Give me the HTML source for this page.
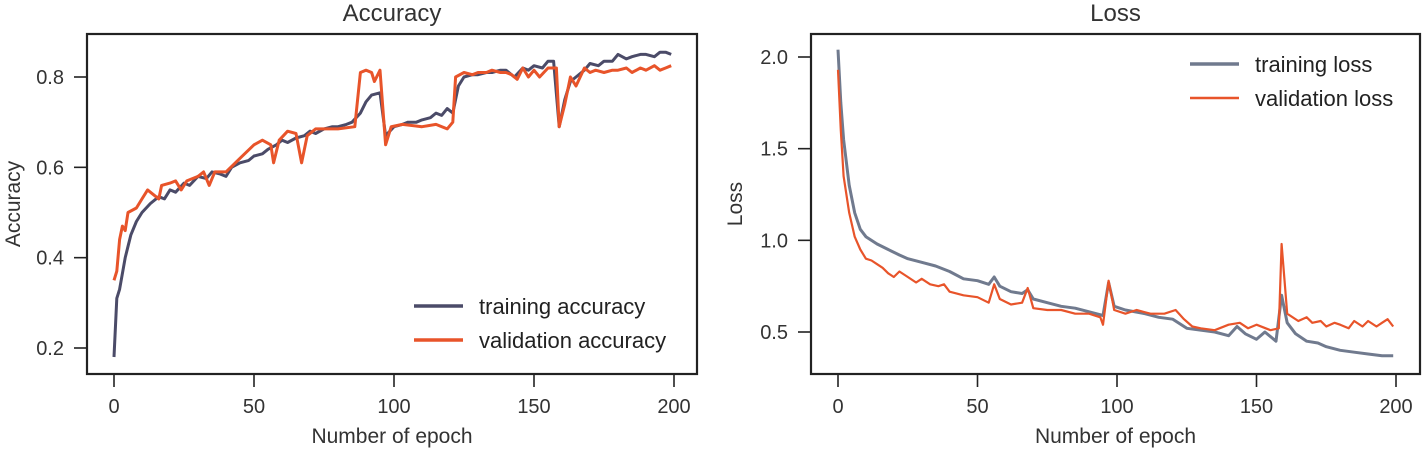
<!DOCTYPE html>
<html><head><meta charset="utf-8"><style>
body{margin:0;background:#fff}
svg{display:block;font-family:"Liberation Sans",sans-serif}
</style></head><body>
<svg id="c" width="1425" height="450" viewBox="0 0 1425 450" xmlns="http://www.w3.org/2000/svg"></svg>
<script>
const accEpochs=[0,1,2,4,6,8,10,13,16,18,20,22,25,27,30,33,35,38,40,42,45,48,50,53,55,58,60,62,65,68,70,72,75,78,80,83,85,88,90,92,95,97,100,103,105,108,110,113,115,117,119,121,123,125,128,130,133,135,138,140,143,146,148,150,153,155,157,159,161,163,165,168,170,173,175,178,180,183,185,188,190,193,195,197,199];
const accTrain=[0.18,0.31,0.33,0.40,0.45,0.48,0.50,0.52,0.535,0.53,0.55,0.545,0.565,0.56,0.58,0.575,0.59,0.585,0.58,0.60,0.61,0.615,0.625,0.63,0.64,0.65,0.66,0.655,0.665,0.67,0.68,0.675,0.685,0.69,0.69,0.695,0.70,0.72,0.745,0.76,0.765,0.67,0.69,0.695,0.70,0.70,0.705,0.71,0.72,0.715,0.73,0.72,0.78,0.80,0.805,0.805,0.81,0.81,0.815,0.815,0.80,0.82,0.815,0.825,0.82,0.835,0.835,0.69,0.75,0.79,0.80,0.815,0.83,0.825,0.835,0.835,0.85,0.84,0.845,0.85,0.85,0.845,0.855,0.855,0.85];
const valAccEpochs=[0,1,2,3,4,5,8,10,12,14,16,17,20,22,24,26,30,32,34,36,40,45,50,53,56,57,59,62,65,67,69,72,80,86,88,90,92,93,95,97,99,103,110,115,119,121,122,125,128,130,133,135,138,140,142,144,146,148,150,152,155,158,159,161,163,165,168,170,172,175,178,180,183,185,188,190,193,195,197,199];
const accVal=[0.35,0.37,0.44,0.47,0.46,0.50,0.51,0.53,0.55,0.54,0.53,0.56,0.565,0.57,0.55,0.57,0.58,0.59,0.56,0.59,0.59,0.62,0.65,0.66,0.65,0.61,0.66,0.68,0.675,0.61,0.67,0.685,0.685,0.69,0.81,0.815,0.81,0.79,0.815,0.65,0.69,0.695,0.69,0.695,0.685,0.70,0.80,0.81,0.805,0.81,0.81,0.815,0.81,0.81,0.805,0.795,0.82,0.80,0.815,0.80,0.82,0.82,0.69,0.74,0.80,0.78,0.82,0.81,0.815,0.81,0.815,0.815,0.82,0.81,0.82,0.815,0.825,0.815,0.82,0.825];
const lossEpochs=[0,1,2,4,6,8,10,14,18,22,25,30,35,40,45,50,54,56,58,62,66,68,70,75,80,85,90,95,97,99,103,110,115,120,125,130,135,140,143,146,150,153,157,159,161,164,168,172,175,180,185,190,195,199];
const lossTrain=[2.04,1.75,1.55,1.3,1.15,1.06,1.02,0.98,0.95,0.92,0.90,0.88,0.86,0.83,0.79,0.78,0.76,0.80,0.75,0.72,0.71,0.73,0.68,0.66,0.64,0.63,0.61,0.59,0.77,0.64,0.62,0.60,0.58,0.57,0.52,0.51,0.50,0.48,0.53,0.49,0.46,0.50,0.45,0.70,0.55,0.49,0.45,0.44,0.42,0.40,0.39,0.38,0.37,0.37];
const valLossEpochs=[0,1,2,4,6,8,10,12,14,16,18,20,22,25,28,30,33,36,38,40,45,50,54,56,58,62,66,68,70,75,80,85,90,94,95,97,99,103,107,112,117,121,124,127,130,135,140,144,147,150,155,158,159,161,165,168,170,173,175,178,180,183,185,188,190,193,195,197,199];
const lossVal=[1.93,1.6,1.35,1.15,1.02,0.95,0.90,0.89,0.87,0.85,0.82,0.80,0.83,0.80,0.77,0.79,0.76,0.75,0.76,0.72,0.70,0.69,0.66,0.76,0.68,0.65,0.66,0.74,0.63,0.62,0.62,0.60,0.60,0.58,0.54,0.78,0.62,0.60,0.62,0.60,0.60,0.62,0.57,0.53,0.52,0.51,0.54,0.55,0.52,0.54,0.51,0.52,0.98,0.60,0.56,0.58,0.55,0.56,0.53,0.55,0.54,0.52,0.56,0.53,0.56,0.53,0.55,0.57,0.53];
const xTicks=[0,50,100,150,200];
const accTicks=[0.2,0.4,0.6,0.8];
const lossTicks=[0.5,1.0,1.5,2.0];

const svg=document.getElementById('c');
const NS='http://www.w3.org/2000/svg';
function mk(tag,attrs,parent){const e=document.createElementNS(NS,tag);for(const k in attrs)e.setAttribute(k,attrs[k]);(parent||svg).appendChild(e);return e;}

function panel(cfg){
  const g=mk('g',{});
  
  
  const X=v=>cfg.x0+(cfg.x200-cfg.x0)*v/200;
  const Y=v=>cfg.yA+(cfg.yB-cfg.yA)*(v-cfg.vA)/(cfg.vB-cfg.vA);
  const box=mk('rect',{x:cfg.L,y:cfg.T,width:cfg.R-cfg.L,height:cfg.B-cfg.T,fill:'none',stroke:'#222','stroke-width':2.2},g);
  
  
  xTicks.forEach(t=>{
    mk('line',{x1:X(t),x2:X(t),y1:cfg.B,y2:cfg.B+13,stroke:'#222','stroke-width':1.6},g);
    const tx=mk('text',{x:X(t),y:cfg.B+39,'text-anchor':'middle','font-size':20,fill:'#333'},g);
    tx.textContent=t;
    
    
  });
  cfg.yTicks.forEach(t=>{
    mk('line',{x1:cfg.L-13,x2:cfg.L,y1:Y(t),y2:Y(t),stroke:'#222','stroke-width':1.6},g);
    const tx=mk('text',{x:cfg.L-23,y:Y(t)+7,'text-anchor':'end','font-size':20,fill:'#333'},g);
    tx.textContent=t.toFixed(1);
    
    
  });
  const ti=mk('text',{x:(cfg.L+cfg.R)/2,y:21,'text-anchor':'middle','font-size':24,fill:'#333'},g);
  ti.textContent=cfg.title;
  
  
  const xl=mk('text',{x:(cfg.L+cfg.R)/2,y:443,'text-anchor':'middle','font-size':21,fill:'#333'},g);
  xl.textContent='Number of epoch';
  
  
  const yc=(cfg.T+cfg.B)/2;
  const yl=mk('text',{x:cfg.yLabX,y:yc,'text-anchor':'middle','font-size':21,fill:'#333',transform:`rotate(-90 ${cfg.yLabX} ${yc})`},g);
  yl.textContent=cfg.yTitle;
  
  
  cfg.series.forEach(s=>{
    const d=s.e.map((e,i)=>(i?'L':'M')+X(e).toFixed(1)+','+Y(s.v[i]).toFixed(1)).join(' ');
    const p=mk('path',{d:d,fill:'none',stroke:s.c,'stroke-width':s.w,'stroke-linejoin':'round'},g);
    
    
  });
  cfg.series.forEach((s,i)=>{
    const ly=cfg.legY+i*34;
    const lg=mk('g',{},g);
    
    
    mk('line',{x1:cfg.legX,x2:cfg.legX+49,y1:ly,y2:ly,stroke:s.c,'stroke-width':s.w+0.4},lg);
    const t=mk('text',{x:cfg.legX+65,y:ly+8,'font-size':22,fill:'#222'},lg);
    t.textContent=s.label;
  });
}
panel({name:'accuracy-chart',title:'Accuracy',yTitle:'Accuracy',L:87,R:697,T:34,B:374,x0:114,x200:674,vA:0.8,yA:77,vB:0.2,yB:348,yTicks:accTicks,yLabX:20,legX:414,legY:306,
  series:[{name:'training-accuracy-line',label:'training accuracy',e:accEpochs,v:accTrain,c:'#4b4b68',w:3},
          {name:'validation-accuracy-line',label:'validation accuracy',e:valAccEpochs,v:accVal,c:'#e8542a',w:3}]});
panel({name:'loss-chart',title:'Loss',yTitle:'Loss',L:811,R:1420,T:34,B:374,x0:838,x200:1396,vA:2.0,yA:57,vB:0.5,yB:332,yTicks:lossTicks,yLabX:742,legX:1190,legY:64,
  series:[{name:'training-loss-line',label:'training loss',e:lossEpochs,v:lossTrain,c:'#707a8e',w:3},
          {name:'validation-loss-line',label:'validation loss',e:valLossEpochs,v:lossVal,c:'#e8542a',w:2.2}]});
</script>
</body></html>
